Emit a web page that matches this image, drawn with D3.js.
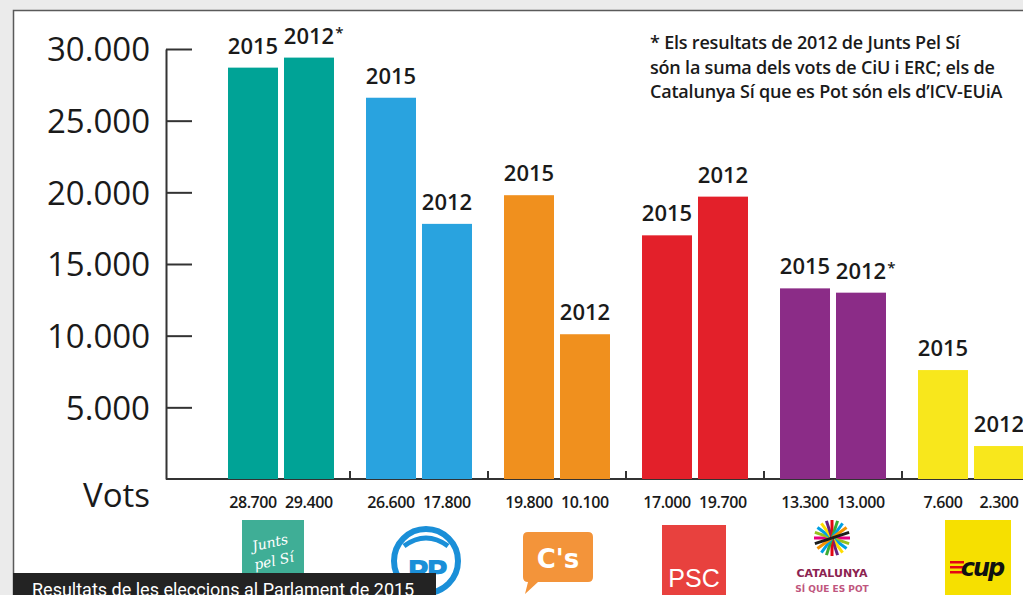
<!DOCTYPE html>
<html>
<head>
<meta charset="utf-8">
<script src="https://cdn.jsdelivr.net/npm/d3@7"></script>
<style>
  body { margin: 0; background: #ebebeb; }
  svg { display: block; }
</style>
</head>
<body>
<div id="chart"></div>
<script>
// dades
const parties = ["Junts pel Sí", "PP", "C's", "PSC", "Catalunya Sí que es Pot", "CUP"];
const years = ["2015", "2012"];
const votes2015 = [28700, 26600, 19800, 17000, 13300, 7600];
const votes2012 = [29400, 17800, 10100, 19700, 13000, 2300];
const starred2012 = ["Junts pel Sí", "Catalunya Sí que es Pot"];
const partyColors = ["#00a396", "#29a3df", "#f0901e", "#e3202a", "#8b2c87", "#f8e71c"];
const yTicks = [5000, 10000, 15000, 20000, 25000, 30000];
const footnote = [
    "* Els resultats de 2012 de Junts Pel Sí",
    "són la suma dels vots de CiU i ERC; els de",
    "Catalunya Sí que es Pot són els d’ICV-EUiA"
];
const caption = "Resultats de les eleccions al Parlament de 2015";

const W = 1023, H = 595;
const ca = d3.formatLocale({ decimal: ",", thousands: ".", grouping: [3], currency: ["", "€"] });
const fmt = ca.format(",");

const svg = d3.select("#chart").append("svg")
    .attr("width", W)
    .attr("height", H);

// marc
svg.append("rect").attr("width", W).attr("height", H).attr("fill", "#ebebeb");
svg.append("rect")
    .attr("x", 13.5).attr("y", 10.5)
    .attr("width", W + 20).attr("height", H + 20)
    .attr("fill", "#fff")
    .attr("stroke", "#5a5a5a")
    .attr("stroke-width", 1.5);

// taula per partit
const data = parties.map((p, i) => ({
    party: p,
    color: partyColors[i],
    values: [
        { year: "2015", v: votes2015[i] },
        { year: "2012", v: votes2012[i] }
    ]
}));

// escales
const y = d3.scaleLinear().domain([0, 30000]).range([479, 49]);
const x0 = d3.scaleBand().domain(parties).range([212, 1040]);
const x1 = d3.scaleBand().domain(years).range([0, x0.bandwidth()])
    .paddingInner(0.107).paddingOuter(0.286);

/*** Eix Y ***/
const yAxis = svg.append("g")
    .attr("transform", "translate(166,0)")
    .call(d3.axisLeft(y)
        .tickValues(yTicks)
        .tickSize(-26)
        .tickSizeOuter(0)
        .tickPadding(16)
        .tickFormat(fmt));
yAxis.select(".domain").attr("stroke", "#333").attr("stroke-width", 2);
yAxis.selectAll(".tick line").attr("stroke", "#333").attr("stroke-width", 2);
yAxis.selectAll(".tick text")
    .attr("fill", "#1a1a1a")
    .style("font-family", "'Open Sans', sans-serif")
    .style("font-size", "33px")
    .attr("dy", "0.36em");

svg.append("text")
    .attr("x", 150).attr("y", 507)
    .attr("text-anchor", "end")
    .attr("fill", "#1a1a1a")
    .style("font-family", "'Open Sans', sans-serif")
    .style("font-size", "33px")
    .text("Vots");

// línia base amb separadors
svg.append("line")
    .attr("x1", 166).attr("x2", W)
    .attr("y1", y(0)).attr("y2", y(0))
    .attr("stroke", "#333").attr("stroke-width", 2);
svg.append("g").selectAll("line")
    .data(parties.slice(1))
    .join("line")
    .attr("x1", d => x0(d)).attr("x2", d => x0(d))
    .attr("y1", y(0) - 8).attr("y2", y(0))
    .attr("stroke", "#333").attr("stroke-width", 2);

/*** Barres ***/
const groups = svg.append("g").selectAll("g")
    .data(data)
    .join("g")
    .attr("transform", d => `translate(${x0(d.party)},0)`);

groups.selectAll("rect")
    .data(d => d.values.map(v => ({ ...v, color: d.color, party: d.party })))
    .join("rect")
    .attr("x", d => x1(d.year))
    .attr("y", d => y(d.v))
    .attr("width", x1.bandwidth())
    .attr("height", d => y(0) - y(d.v))
    .attr("fill", d => d.color);

// etiquetes d'any
const yearLabels = groups.selectAll("text.year")
    .data(d => d.values.map(v => ({ ...v, party: d.party })))
    .join("text")
    .attr("class", "year")
    .attr("x", d => x1(d.year) + x1.bandwidth() / 2)
    .attr("y", d => y(d.v) - 14)
    .attr("text-anchor", "middle")
    .attr("fill", "#1a1a1a")
    .style("font-family", "'Open Sans', sans-serif")
    .style("font-weight", 600)
    .style("font-size", "22px")
    .text(d => d.year);

// asterisc
yearLabels.each(function(d) {
    if (d.year === "2012" && starred2012.includes(d.party)) {
        const w = this.getComputedTextLength();
        d3.select(this.parentNode).append("text")
            .attr("x", x1(d.year) + x1.bandwidth() / 2 + w / 2 + 1)
            .attr("y", y(d.v) - 20)
            .attr("fill", "#1a1a1a")
            .style("font-family", "'Open Sans', sans-serif")
            .style("font-weight", 600)
            .style("font-size", "15px")
            .text("*");
    }
});

// valors sota l'eix
groups.selectAll("text.val")
    .data(d => d.values)
    .join("text")
    .attr("class", "val")
    .attr("x", d => x1(d.year) + x1.bandwidth() / 2)
    .attr("y", 508)
    .attr("text-anchor", "middle")
    .attr("fill", "#1a1a1a")
    .style("font-family", "'Open Sans', sans-serif")
    .style("font-weight", 600)
    .style("font-size", "16px")
    .attr("letter-spacing", "-0.4")
    .text(d => fmt(d.v));

/*** Logos (simplificats) ***/
const cx = p => x0(p) + x0.bandwidth() / 2;
const logos = svg.append("g");

// Junts pel Sí
{
    const c = cx(parties[0]) - 8;
    logos.append("rect").attr("x", c - 31).attr("y", 520).attr("width", 62).attr("height", 70).attr("fill", "#3fae96");
    logos.append("text").attr("x", c - 2).attr("y", 547).attr("text-anchor", "middle")
        .attr("fill", "#fff").style("font-family", "'DejaVu Serif', serif").style("font-style", "italic")
        .style("font-size", "14px").attr("transform", `rotate(-12,${c},547)`).text("Junts");
    logos.append("text").attr("x", c + 2).attr("y", 566).attr("text-anchor", "middle")
        .attr("fill", "#fff").style("font-family", "'DejaVu Serif', serif").style("font-style", "italic")
        .style("font-size", "14px").attr("transform", `rotate(-12,${c},566)`).text("pel Sí");
}
// PP
{
    const c = cx(parties[1]) + 7;
    logos.append("circle").attr("cx", c).attr("cy", 561).attr("r", 32)
        .attr("fill", "none").attr("stroke", "#1a8fd8").attr("stroke-width", 6);
    logos.append("path").attr("d", `M${c - 22},${546} Q${c},${530} ${c + 22},${546}`)
        .attr("fill", "none").attr("stroke", "#1a8fd8").attr("stroke-width", 5);
    logos.append("text").attr("x", c).attr("y", 582).attr("text-anchor", "middle")
        .attr("fill", "#1a8fd8").style("font-family", "'DejaVu Sans', sans-serif").style("font-weight", 700)
        .style("font-size", "30px").attr("letter-spacing", "-3").text("PP");
}
// C's
{
    const c = cx(parties[2]) + 1;
    logos.append("path")
        .attr("d", `M${c - 30},532 H${c + 30} Q${c + 35},532 ${c + 35},537 V577 Q${c + 35},582 ${c + 30},582 H${c - 20} L${c - 33},594 L${c - 30},582 Q${c - 35},582 ${c - 35},577 V537 Q${c - 35},532 ${c - 30},532 Z`)
        .attr("fill", "#f3943a");
    logos.append("text").attr("x", c).attr("y", 568).attr("text-anchor", "middle")
        .attr("fill", "#fff").style("font-family", "'DejaVu Sans', sans-serif").style("font-weight", 700)
        .style("font-size", "26px").text("C's");
}
// PSC
{
    const c = cx(parties[3]) - 1;
    logos.append("rect").attr("x", c - 32).attr("y", 525).attr("width", 64).attr("height", 75).attr("fill", "#e8413e");
    logos.append("text").attr("x", c).attr("y", 587).attr("text-anchor", "middle")
        .attr("fill", "#fff").style("font-family", "'Liberation Sans', sans-serif")
        .style("font-size", "25px").text("PSC");
}
// Catalunya Sí que es Pot
{
    const c = cx(parties[4]) - 1;
    const rays = ["#e6007e", "#95c11f", "#00a0e3", "#ffdd00", "#662483", "#e30613", "#3aaa35", "#009fe3", "#f39200", "#1d1d1b"];
    rays.forEach((col, i) => {
        const a = i * Math.PI / rays.length;
        logos.append("line")
            .attr("x1", c - 18 * Math.cos(a)).attr("y1", 538 - 18 * Math.sin(a))
            .attr("x2", c + 18 * Math.cos(a)).attr("y2", 538 + 18 * Math.sin(a))
            .attr("stroke", col).attr("stroke-width", 3);
    });
    logos.append("text").attr("x", c).attr("y", 577).attr("text-anchor", "middle")
        .attr("fill", "#8c2350").style("font-family", "'DejaVu Sans', sans-serif").style("font-weight", 700)
        .style("font-size", "11px").text("CATALUNYA");
    logos.append("text").attr("x", c).attr("y", 592).attr("text-anchor", "middle")
        .attr("fill", "#c0567e").style("font-family", "'DejaVu Sans', sans-serif").style("font-weight", 700)
        .style("font-size", "9px").text("SÍ QUE ES POT");
}
// CUP
{
    const c = cx(parties[5]) + 7;
    logos.append("rect").attr("x", c - 33).attr("y", 520).attr("width", 66).attr("height", 80).attr("fill", "#f6e000");
    [0, 1, 2].forEach(i => {
        logos.append("rect").attr("x", c - 28).attr("y", 561 + i * 5).attr("width", 14).attr("height", 2.5).attr("fill", "#e30613");
    });
    logos.append("text").attr("x", c + 4).attr("y", 576).attr("text-anchor", "middle")
        .attr("fill", "#111").style("font-family", "'DejaVu Sans', sans-serif").style("font-weight", 700)
        .style("font-style", "italic").style("font-size", "24px").attr("letter-spacing", "-2").text("cup");
}

/*** Nota ***/
svg.append("g").selectAll("text")
    .data(footnote)
    .join("text")
    .attr("x", 650)
    .attr("y", (d, i) => 49 + i * 24.5)
    .attr("fill", "#1a1a1a")
    .style("font-family", "'Open Sans', sans-serif")
    .style("font-weight", 600)
    .style("font-size", "18px")
    .attr("letter-spacing", "-0.2")
    .text(d => d);

/*** Peu ***/
svg.append("rect")
    .attr("x", 13).attr("y", 573)
    .attr("width", 423).attr("height", 30)
    .attr("fill", "#232323");
svg.append("text")
    .attr("x", 32).attr("y", 596)
    .attr("fill", "#fff")
    .style("font-family", "Roboto, sans-serif")
    .style("font-size", "18px")
    .text(caption);
</script>
</body>
</html>
